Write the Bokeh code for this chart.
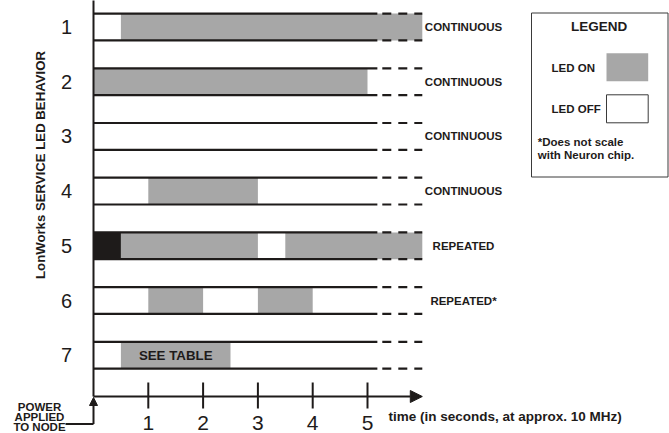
import math
from bokeh.plotting import figure
from bokeh.models import ColumnDataSource, Range1d, Arrow, NormalHead
from bokeh.core.properties import value
from bokeh.embed import file_html
from bokeh.resources import INLINE

# ---------------- data ----------------
rows = [1, 2, 3, 4, 5, 6, 7]
row_labels = ["1", "2", "3", "4", "5", "6", "7"]
behaviors = ["CONTINUOUS", "CONTINUOUS", "CONTINUOUS", "CONTINUOUS",
             "REPEATED", "REPEATED*", ""]

# LED-on intervals (seconds)
on_row = [1, 2, 4, 5, 5, 6, 6, 7]
on_start = [0.5, 0.0, 1.0, 0.5, 3.5, 1.0, 3.0, 0.5]
on_end = [6.0, 5.0, 3.0, 3.0, 6.0, 2.0, 4.0, 2.5]

# dark (solid black) interval
dark_row = [5]
dark_start = [0.0]
dark_end = [0.5]

time_ticks = [1, 2, 3, 4, 5]
time_tick_labels = ["1", "2", "3", "4", "5"]

axis_title = "LonWorks SERVICE LED BEHAVIOR"
time_title = "time (in seconds, at approx. 10 MHz)"
power_text = ["POWER", "APPLIED", "TO NODE"]
legend_notes = ["*Does not scale", "with Neuron chip."]

# ---------------- styling / layout ----------------
INK = "#1e1b1a"
GRAY = "#a7a7a7"
FONT = value("Liberation Sans")
H = 0.245           # half height of a row band
SOLID_END = 5.18
DASH_START, DASH_END = 5.27, 6.0
W, HT = 669, 433


def X(px):
    return (px - 93.0) / 54.8


def Y(py):
    return -(py - 26.5) / 54.7 - 1.0


p = figure(width=W, height=HT,
           x_range=Range1d(X(0), X(W)), y_range=Range1d(Y(HT), Y(0)),
           x_axis_type=None, y_axis_type=None,
           output_backend="svg", toolbar_location=None, min_border=0)
p.outline_line_color = None
p.background_fill_color = "white"
p.border_fill_color = "white"

# LED on fills
on_src = ColumnDataSource(dict(
    left=on_start, right=on_end,
    bottom=[-r - H for r in on_row], top=[-r + H for r in on_row]))
p.quad(left="left", right="right", bottom="bottom", top="top", source=on_src,
       fill_color=GRAY, line_color=None)
dark_src = ColumnDataSource(dict(
    left=dark_start, right=dark_end,
    bottom=[-r - H for r in dark_row], top=[-r + H for r in dark_row]))
p.quad(left="left", right="right", bottom="bottom", top="top", source=dark_src,
       fill_color=INK, line_color=None)

# row border lines
ys = []
for r in rows:
    ys += [-r + H, -r - H]
p.segment(x0=[0] * len(ys), x1=[SOLID_END] * len(ys), y0=ys, y1=ys,
          line_color=INK, line_width=2.2)
p.segment(x0=[DASH_START] * len(ys), x1=[DASH_END] * len(ys), y0=ys, y1=ys,
          line_color=INK, line_width=2.2, line_dash="9 7")

# vertical axis
p.segment(x0=[0], x1=[0], y0=[Y(-5)], y1=[Y(396)], line_color=INK, line_width=2)
# horizontal time axis with arrow
p.add_layout(Arrow(x_start=0, y_start=Y(396), x_end=6.0, y_end=Y(396),
                   line_color=INK, line_width=2,
                   end=NormalHead(size=12, fill_color=INK, line_color=INK)))
# ticks
p.segment(x0=time_ticks, x1=time_ticks, y0=[Y(382)] * len(time_ticks),
          y1=[Y(408)] * len(time_ticks), line_color=INK, line_width=2)
p.text(x=time_ticks, y=[Y(422.5)] * len(time_ticks), text=time_tick_labels,
       text_font=FONT, text_font_size="21px", text_color=INK,
       text_align="center", text_baseline="middle")

# row numbers
p.text(x=[X(66)] * len(rows), y=[-r for r in rows], text=row_labels,
       text_font=FONT, text_font_size="20px", text_color=INK,
       text_align="center", text_baseline="middle")

# behaviour labels
p.text(x=[X(463)] * len(rows), y=[-r for r in rows], text=behaviors,
       text_font=FONT, text_font_size="11.5px", text_font_style="bold",
       text_color=INK, text_align="center", text_baseline="middle")

# SEE TABLE label inside row 7 interval
i7 = on_row.index(7)
p.text(x=[(on_start[i7] + on_end[i7]) / 2], y=[-7], text=["SEE TABLE"],
       text_font=FONT, text_font_size="13.3px", text_font_style="bold",
       text_color=INK, text_align="center", text_baseline="middle")

# y title
p.text(x=[X(40)], y=[Y(164.5)], text=[axis_title], angle=math.pi / 2,
       text_font=FONT, text_font_size="13.2px", text_font_style="bold",
       text_color=INK, text_align="center", text_baseline="middle")

# time title
p.text(x=[X(388)], y=[Y(415.7)], text=[time_title],
       text_font=FONT, text_font_size="13.5px", text_font_style="bold",
       text_color=INK, text_align="left", text_baseline="middle")

# power applied note + pointer
p.text(x=[X(39)] * 3, y=[Y(406.2), Y(416.2), Y(426.0)], text=power_text,
       text_font=FONT, text_font_size="11.5px", text_font_style="bold",
       text_color=INK, text_align="center", text_baseline="middle")
p.segment(x0=[X(65)], x1=[0], y0=[Y(423.5)], y1=[Y(423.5)],
          line_color=INK, line_width=2)
p.add_layout(Arrow(x_start=0, y_start=Y(423.5), x_end=0, y_end=Y(397),
                   line_color=INK, line_width=2,
                   end=NormalHead(size=8, fill_color=INK, line_color=INK)))

# legend box
p.quad(left=[X(531)], right=[X(667.5)], top=[Y(12.5)], bottom=[Y(176.5)],
       fill_color="white", line_color="#3a3a3a", line_width=1)
p.text(x=[X(598.7)], y=[Y(26.2)], text=["LEGEND"],
       text_font=FONT, text_font_size="13.5px", text_font_style="bold",
       text_color=INK, text_align="center", text_baseline="middle")
p.text(x=[X(551)] * 2, y=[Y(67.2), Y(108.3)], text=["LED ON", "LED OFF"],
       text_font=FONT, text_font_size="11.5px", text_font_style="bold",
       text_color=INK, text_align="left", text_baseline="middle")
p.quad(left=[X(606)], right=[X(647.7)], top=[Y(52.7)], bottom=[Y(80.7)],
       fill_color=GRAY, line_color=None)
p.quad(left=[X(606)], right=[X(647.7)], top=[Y(94.3)], bottom=[Y(122.3)],
       fill_color="white", line_color="#3a3a3a", line_width=1)
p.text(x=[X(537.3)] * 2, y=[Y(141.7), Y(154)], text=legend_notes,
       text_font=FONT, text_font_size="11.5px", text_font_style="bold",
       text_color=INK, text_align="left", text_baseline="middle")

open("out.html", "w").write(file_html(p, INLINE))
